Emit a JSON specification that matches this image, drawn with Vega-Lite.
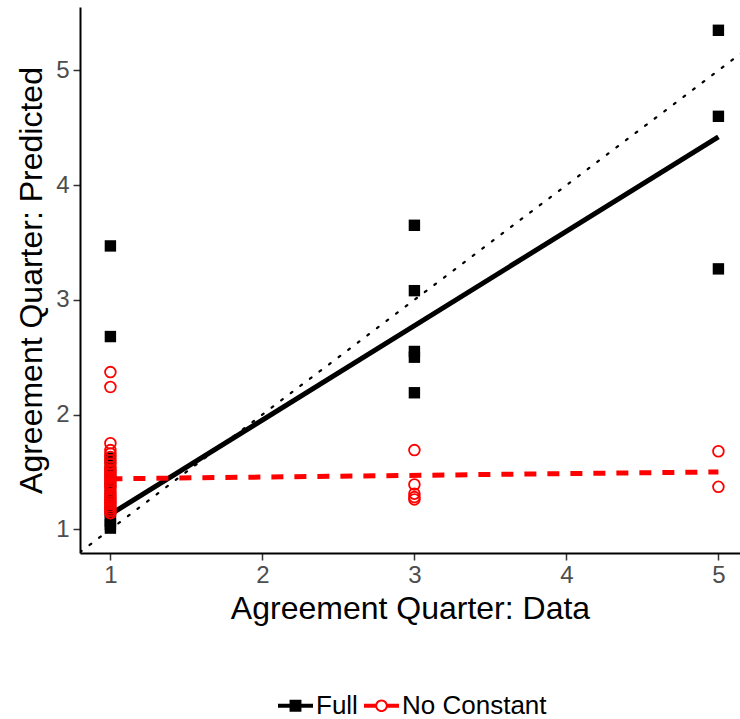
{
  "$schema": "https://vega.github.io/schema/vega-lite/v6.json",
  "width": 660,
  "height": 546,
  "autosize": {"type": "none"},
  "padding": {"left": 80, "top": 7, "right": 0, "bottom": 166},
  "background": "white",
  "datasets": {
    "points": [
      {"model": "Full", "data": 1, "pred": 3.47},
      {"model": "Full", "data": 1, "pred": 2.68},
      {"model": "Full", "data": 1, "pred": 1.62},
      {"model": "Full", "data": 1, "pred": 1.57},
      {"model": "Full", "data": 1, "pred": 1.5},
      {"model": "Full", "data": 1, "pred": 1.43},
      {"model": "Full", "data": 1, "pred": 1.36},
      {"model": "Full", "data": 1, "pred": 1.29},
      {"model": "Full", "data": 1, "pred": 1.22},
      {"model": "Full", "data": 1, "pred": 1.16},
      {"model": "Full", "data": 1, "pred": 1.11},
      {"model": "Full", "data": 1, "pred": 1.07},
      {"model": "Full", "data": 1, "pred": 1.04},
      {"model": "Full", "data": 1, "pred": 1.01},
      {"model": "Full", "data": 3, "pred": 3.65},
      {"model": "Full", "data": 3, "pred": 3.08},
      {"model": "Full", "data": 3, "pred": 2.55},
      {"model": "Full", "data": 3, "pred": 2.5},
      {"model": "Full", "data": 3, "pred": 2.19},
      {"model": "Full", "data": 5, "pred": 5.35},
      {"model": "Full", "data": 5, "pred": 4.6},
      {"model": "Full", "data": 5, "pred": 3.27},
      {"model": "No Constant", "data": 1, "pred": 2.37},
      {"model": "No Constant", "data": 1, "pred": 2.24},
      {"model": "No Constant", "data": 1, "pred": 1.75},
      {"model": "No Constant", "data": 1, "pred": 1.69},
      {"model": "No Constant", "data": 1, "pred": 1.66},
      {"model": "No Constant", "data": 1, "pred": 1.63},
      {"model": "No Constant", "data": 1, "pred": 1.6},
      {"model": "No Constant", "data": 1, "pred": 1.57},
      {"model": "No Constant", "data": 1, "pred": 1.54},
      {"model": "No Constant", "data": 1, "pred": 1.52},
      {"model": "No Constant", "data": 1, "pred": 1.5},
      {"model": "No Constant", "data": 1, "pred": 1.48},
      {"model": "No Constant", "data": 1, "pred": 1.46},
      {"model": "No Constant", "data": 1, "pred": 1.44},
      {"model": "No Constant", "data": 1, "pred": 1.42},
      {"model": "No Constant", "data": 1, "pred": 1.4},
      {"model": "No Constant", "data": 1, "pred": 1.38},
      {"model": "No Constant", "data": 1, "pred": 1.36},
      {"model": "No Constant", "data": 1, "pred": 1.33},
      {"model": "No Constant", "data": 1, "pred": 1.3},
      {"model": "No Constant", "data": 1, "pred": 1.28},
      {"model": "No Constant", "data": 1, "pred": 1.26},
      {"model": "No Constant", "data": 1, "pred": 1.24},
      {"model": "No Constant", "data": 1, "pred": 1.22},
      {"model": "No Constant", "data": 1, "pred": 1.2},
      {"model": "No Constant", "data": 1, "pred": 1.18},
      {"model": "No Constant", "data": 1, "pred": 1.16},
      {"model": "No Constant", "data": 1, "pred": 1.14},
      {"model": "No Constant", "data": 3, "pred": 1.69},
      {"model": "No Constant", "data": 3, "pred": 1.39},
      {"model": "No Constant", "data": 3, "pred": 1.31},
      {"model": "No Constant", "data": 3, "pred": 1.28},
      {"model": "No Constant", "data": 3, "pred": 1.26},
      {"model": "No Constant", "data": 5, "pred": 1.68},
      {"model": "No Constant", "data": 5, "pred": 1.37}
    ],
    "fits": [
      {"model": "Full", "data": 1, "pred": 1.13},
      {"model": "Full", "data": 5, "pred": 4.42},
      {"model": "No Constant", "data": 1, "pred": 1.44},
      {"model": "No Constant", "data": 5, "pred": 1.5}
    ],
    "diag": [
      {"data": 0.8, "pred": 0.8},
      {"data": 5.2, "pred": 5.2}
    ]
  },
  "encoding": {
    "x": {
      "field": "data",
      "type": "quantitative",
      "scale": {"domain": [0.8, 5.142], "nice": false, "zero": false},
      "axis": {"values": [1, 2, 3, 4, 5], "title": "Agreement Quarter: Data", "labelPadding": 3, "titlePadding": 6}
    },
    "y": {
      "field": "pred",
      "type": "quantitative",
      "scale": {"domain": [0.793, 5.553], "nice": false, "zero": false},
      "axis": {"values": [1, 2, 3, 4, 5], "title": "Agreement Quarter: Predicted", "labelPadding": 4, "titlePadding": 7}
    }
  },
  "layer": [
    {
      "data": {"name": "diag"},
      "mark": {"type": "line", "color": "black", "strokeWidth": 2.2, "strokeDash": [2, 10], "strokeCap": "round", "clip": true},
      "encoding": {}
    },
    {
      "data": {"name": "fits"},
      "transform": [{"filter": "datum.model === 'Full'"}],
      "mark": {"type": "line", "color": "black", "strokeWidth": 5, "clip": true},
      "encoding": {}
    },
    {
      "data": {"name": "fits"},
      "transform": [{"filter": "datum.model === 'No Constant'"}],
      "mark": {"type": "line", "color": "red", "strokeWidth": 5, "strokeDash": [12, 11], "clip": true},
      "encoding": {}
    },
    {
      "data": {"name": "points"},
      "transform": [{"filter": "datum.model === 'Full'"}],
      "mark": {"type": "point", "shape": "square", "filled": true, "color": "black", "opacity": 1, "size": 130},
      "encoding": {}
    },
    {
      "data": {"name": "points"},
      "transform": [{"filter": "datum.model === 'No Constant'"}],
      "mark": {"type": "point", "shape": "circle", "filled": false, "color": "red", "opacity": 1, "strokeWidth": 1.8, "size": 115},
      "encoding": {}
    },
    {
      "data": {"name": "fits"},
      "mark": {"type": "point", "filled": true, "opacity": 0},
      "encoding": {
        "color": {
          "field": "model",
          "type": "nominal",
          "title": null,
          "scale": {"domain": ["Full", "No Constant"], "range": ["black", "red"]}
        },
        "shape": {
          "field": "model",
          "type": "nominal",
          "title": null,
          "scale": {
            "domain": ["Full", "No Constant"],
            "range": [
              "M-1,-0.12H1V0.12H-1Z M-0.34,-0.34H0.34V0.34H-0.34Z",
              "M-1,-0.12H-0.34V0.12H-1Z M0.34,-0.12H1V0.12H0.34Z M0,-0.36A0.36,0.36 0 1,1 0,0.36A0.36,0.36 0 1,1 0,-0.36Z M0,-0.25A0.25,0.25 0 1,0 0,0.25A0.25,0.25 0 1,0 0,-0.25Z"
            ]
          }
        }
      }
    }
  ],
  "config": {
    "view": {"stroke": null},
    "font": "Liberation Sans",
    "axis": {
      "grid": false,
      "domainColor": "black",
      "domainWidth": 2,
      "tickColor": "#333333",
      "tickWidth": 1.5,
      "tickSize": 7,
      "labelColor": "#4D4D4D",
      "labelFontSize": 24,
      "labelFont": "Liberation Sans",
      "titleFont": "Liberation Sans",
      "titleFontSize": 32,
      "titleFontWeight": "normal",
      "titleColor": "black"
    },
    "legend": {
      "orient": "none",
      "legendX": 198,
      "legendY": 681,
      "direction": "horizontal",
      "symbolSize": 1225,
      "symbolOpacity": 1,
      "symbolStrokeWidth": 0,
      "labelFontSize": 26,
      "labelColor": "black",
      "labelFont": "Liberation Sans",
      "labelOffset": 3,
      "columnPadding": 6
    }
  }
}
